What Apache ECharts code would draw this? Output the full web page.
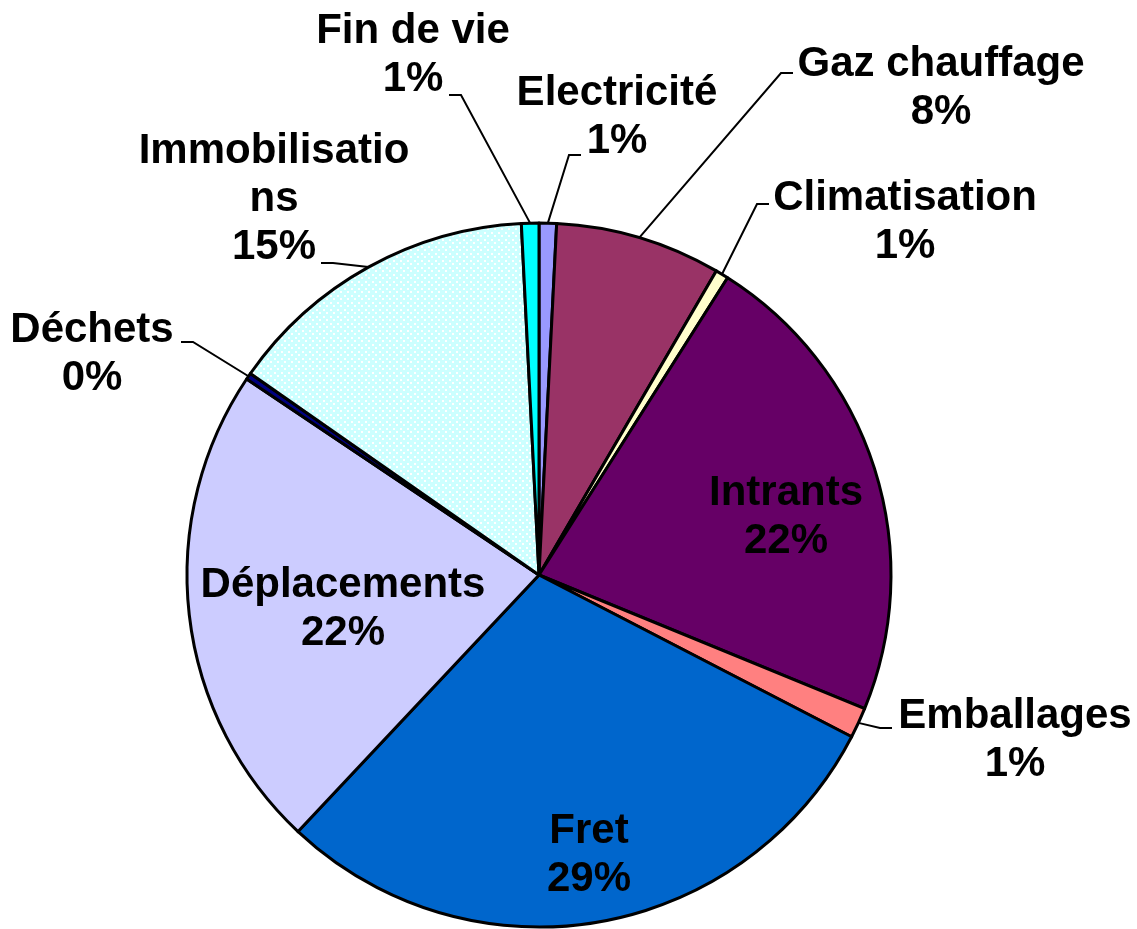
<!DOCTYPE html>
<html>
<head>
<meta charset="utf-8">
<script src="https://cdn.jsdelivr.net/npm/echarts@6/dist/echarts.min.js"></script>
<style>
  html, body { margin: 0; padding: 0; background: #fff; }
  #chart { width: 1137px; height: 929px; }
</style>
</head>
<body>
<div id="chart"></div>
<script>
// postes d'émissions, dans l'ordre horaire depuis midi
const postes = ["Electricité", "Gaz chauffage", "Climatisation", "Intrants", "Emballages",
                "Fret", "Déplacements", "Déchets", "Immobilisations", "Fin de vie"];
const parts = [0.8, 7.6, 0.6, 22.2, 1.4, 29.4, 22.4, 0.3, 14.5, 0.8];

// motif pointillé pour les immobilisations
const motif = document.createElement("canvas");
motif.width = 7; motif.height = 7;
const mctx = motif.getContext("2d");
mctx.fillStyle = "#CCFFFF";
mctx.fillRect(0, 0, 7, 7);
mctx.fillStyle = "#FFFFFF";
mctx.fillRect(1, 1, 2, 2);
mctx.fillRect(4, 4, 2, 2);

const couleurs = ["#9999FF", "#993366", "#FFFFCC", "#660066", "#FF8080",
                  "#0066CC", "#CCCCFF", "#000080", { image: motif, repeat: "repeat" }, "#00FFFF"];

// placement des étiquettes (centre du bloc) et point d'accroche du trait de rappel
const etiquettes = [
  { x: 617, y: 117, ax: 581, ay: 155 },
  { x: 941, y: 88,  ax: 793, ay: 73 },
  { x: 905, y: 222, ax: 769, ay: 204 },
  { x: 786, y: 517 },
  { x: 1015, y: 740, ax: 892, ay: 728 },
  { x: 589, y: 855 },
  { x: 343, y: 609 },
  { x: 92,  y: 354, ax: 181, ay: 342 },
  { x: 274, y: 199, ax: 321, ay: 263 },
  { x: 413, y: 55,  ax: 449, ay: 95 }
];

const CX = 539, CY = 575, R = 352;
const total = parts.reduce((a, b) => a + b, 0);
const milieux = [];
let cumul = 0;
parts.forEach(v => {
  milieux.push((cumul + v / 2) / total * 2 * Math.PI);
  cumul += v;
});

const chart = echarts.init(document.getElementById("chart"));
chart.setOption({
  backgroundColor: "#fff",
  animation: false,
  series: [{
    type: "pie",
    center: [CX, CY],
    radius: R,
    startAngle: 90,
    clockwise: true,
    avoidLabelOverlap: false,
    percentPrecision: 0,
    itemStyle: { borderColor: "#000", borderWidth: 3 },
    label: {
      show: true,
      position: "outside",
      formatter: "{b}\n{d}%",
      color: "#000",
      fontFamily: "Liberation Sans, Arial, sans-serif",
      fontWeight: "bold",
      fontSize: 42,
      lineHeight: 48,
      align: "center"
    },
    labelLine: { show: true, smooth: false, lineStyle: { color: "#000", width: 2 } },
    emphasis: { disabled: true },
    data: postes.map((p, i) => {
      const item = { name: p, value: parts[i], itemStyle: { color: couleurs[i] } };
      if (!etiquettes[i].ax) item.labelLine = { show: false };
      if (p === "Immobilisations") item.label = { width: 280, overflow: "breakAll" };
      return item;
    }),
    labelLayout: params => {
      const e = etiquettes[params.dataIndex];
      const out = { x: e.x, y: e.y, align: "center", verticalAlign: "middle" };
      if (e.ax) {
        const a = milieux[params.dataIndex];
        const px = CX + R * Math.sin(a), py = CY - R * Math.cos(a);
        const coude = e.ax + (px > e.ax ? 12 : -12);
        out.labelLinePoints = [[px, py], [coude, e.ay], [e.ax, e.ay]];
      }
      return out;
    }
  }]
});
</script>
</body>
</html>
